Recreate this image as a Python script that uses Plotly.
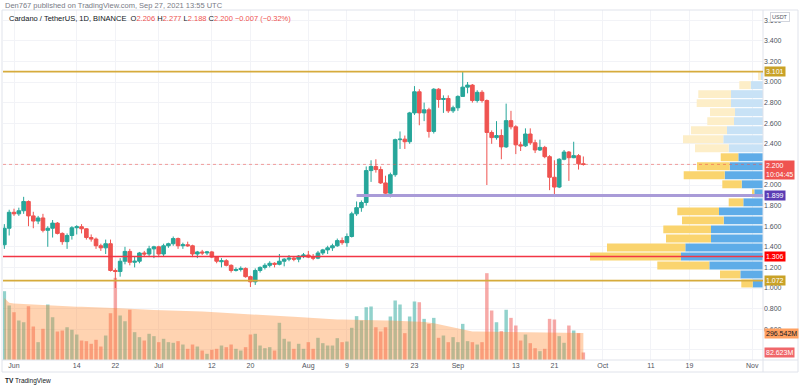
import pandas as pd
import plotly.graph_objects as go

W, H = 800, 388

# ---------------- data ----------------
dates = pd.date_range("2021-05-30", "2021-09-27", freq="D")

open_ = [1.42, 1.58,
         1.735, 1.72, 1.75, 1.84, 1.70, 1.65, 1.68, 1.56, 1.58, 1.63, 1.53, 1.45, 1.51, 1.585, 1.595,
         1.575, 1.49, 1.475, 1.41, 1.39, 1.43, 1.17, 1.16, 1.26, 1.355, 1.25, 1.26, 1.34, 1.33, 1.38,
         1.40, 1.33, 1.41, 1.43, 1.48, 1.41, 1.42, 1.41, 1.33, 1.35, 1.34, 1.35, 1.30, 1.255, 1.265,
         1.22, 1.17, 1.18, 1.19, 1.11, 1.06, 1.17, 1.20, 1.22, 1.24, 1.23, 1.26, 1.28, 1.29, 1.28, 1.31,
         1.32, 1.30, 1.29, 1.34, 1.37, 1.39, 1.41, 1.46, 1.44, 1.50, 1.72, 1.78, 1.83, 2.14, 2.18,
         2.15, 2.02, 1.92, 2.10, 2.44, 2.445, 2.42, 2.70, 2.905, 2.70, 2.73, 2.52, 2.93, 2.83, 2.84, 2.72,
         2.75, 2.86, 2.95, 2.97, 2.82, 2.90, 2.82, 2.51, 2.46, 2.48, 2.37, 2.625, 2.565, 2.39, 2.38,
         2.495, 2.41, 2.34, 2.365, 2.275, 2.075, 1.98, 2.25, 2.32, 2.265, 2.285, 2.206]
high = [1.62, 1.76,
        1.77, 1.78, 1.885, 1.85, 1.74, 1.70, 1.72, 1.60, 1.66, 1.64, 1.54, 1.53, 1.60, 1.61, 1.62,
        1.58, 1.52, 1.49, 1.43, 1.47, 1.47, 1.19, 1.29, 1.40, 1.38, 1.31, 1.35, 1.36, 1.41, 1.41,
        1.41, 1.43, 1.44, 1.50, 1.49, 1.44, 1.45, 1.42, 1.36, 1.37, 1.36, 1.36, 1.31, 1.29, 1.28,
        1.23, 1.20, 1.21, 1.20, 1.12, 1.19, 1.21, 1.24, 1.26, 1.25, 1.33, 1.29, 1.32, 1.31, 1.32, 1.34,
        1.36, 1.33, 1.36, 1.38, 1.41, 1.43, 1.48, 1.49, 1.53, 1.74, 1.84, 1.85, 2.18, 2.24, 2.25,
        2.18, 2.09, 2.12, 2.45, 2.52, 2.48, 2.71, 2.96, 2.93, 2.80, 2.75, 2.94, 2.94, 2.87, 2.87, 2.77,
        2.87, 3.10, 3.00, 2.98, 2.92, 2.92, 2.83, 2.53, 2.62, 2.54, 2.79, 2.72, 2.58, 2.42, 2.55,
        2.55, 2.44, 2.44, 2.38, 2.29, 2.24, 2.26, 2.34, 2.33, 2.42, 2.30, 2.277]
low = [1.38, 1.51,
       1.70, 1.70, 1.72, 1.60, 1.58, 1.62, 1.54, 1.40, 1.49, 1.52, 1.42, 1.38, 1.47, 1.52, 1.53,
       1.47, 1.45, 1.38, 1.36, 1.33, 1.16, 1.00, 1.11, 1.23, 1.22, 1.20, 1.24, 1.30, 1.30, 1.29,
       1.30, 1.31, 1.39, 1.41, 1.38, 1.38, 1.40, 1.30, 1.29, 1.32, 1.32, 1.29, 1.24, 1.20, 1.21,
       1.15, 1.16, 1.16, 1.10, 1.01, 1.03, 1.15, 1.18, 1.20, 1.20, 1.22, 1.21, 1.26, 1.26, 1.25, 1.29,
       1.29, 1.27, 1.28, 1.32, 1.33, 1.36, 1.40, 1.42, 1.40, 1.49, 1.70, 1.74, 1.80, 2.03, 2.12,
       2.01, 1.90, 1.88, 2.08, 2.35, 2.35, 2.40, 2.68, 2.58, 2.62, 2.46, 2.50, 2.75, 2.70, 2.70, 2.70,
       2.72, 2.86, 2.89, 2.80, 2.80, 2.80, 2.00, 2.40, 2.44, 2.25, 2.36, 2.54, 2.30, 2.33, 2.37,
       2.39, 2.31, 2.33, 2.26, 1.95, 1.90, 1.97, 2.24, 2.04, 2.26, 2.15, 2.188]
close = [1.58, 1.735,
         1.72, 1.75, 1.84, 1.70, 1.65, 1.68, 1.56, 1.58, 1.63, 1.53, 1.45, 1.51, 1.585, 1.595, 1.575,
         1.49, 1.475, 1.41, 1.39, 1.43, 1.17, 1.16, 1.26, 1.355, 1.25, 1.26, 1.34, 1.33, 1.38, 1.40,
         1.33, 1.41, 1.43, 1.48, 1.41, 1.42, 1.41, 1.33, 1.35, 1.34, 1.35, 1.30, 1.26, 1.265, 1.22,
         1.17, 1.18, 1.19, 1.11, 1.06, 1.17, 1.20, 1.22, 1.24, 1.23, 1.26, 1.28, 1.29, 1.28, 1.31, 1.32,
         1.30, 1.29, 1.34, 1.37, 1.39, 1.41, 1.46, 1.44, 1.50, 1.72, 1.78, 1.83, 2.14, 2.18, 2.15,
         2.02, 1.92, 2.10, 2.44, 2.445, 2.42, 2.70, 2.905, 2.70, 2.73, 2.52, 2.93, 2.83, 2.84, 2.72, 2.75,
         2.86, 2.95, 2.97, 2.82, 2.90, 2.82, 2.51, 2.46, 2.48, 2.37, 2.625, 2.565, 2.39, 2.38, 2.495,
         2.41, 2.34, 2.365, 2.275, 2.075, 1.98, 2.25, 2.32, 2.265, 2.285, 2.206, 2.200]
volume_m = [756, 599,
            525, 434, 415, 591, 368, 196, 343, 610, 470, 313, 324, 360, 332, 280, 214,
            207, 178, 222, 148, 269, 514, 903, 489, 426, 552, 306, 251, 214, 288, 262,
            196, 233, 196, 189, 207, 170, 123, 170, 148, 104, 68, 112, 123, 159, 141,
            170, 123, 104, 141, 280, 288, 159, 130, 141, 104, 409, 233, 203, 123, 178, 123,
            196, 123, 244, 185, 159, 159, 240, 196, 203, 354, 482, 434, 580, 588, 360,
            313, 360, 478, 654, 610, 295, 478, 643, 635, 452, 397, 463, 244, 269, 196, 251,
            196, 397, 207, 196, 170, 196, 954, 544, 415, 317, 552, 463, 379, 214, 280,
            185, 130, 97, 123, 452, 445, 262, 189, 379, 324, 295, 82.623]
volume_ma_m = [680, 630,
               620, 618, 618, 617, 615, 612, 607, 604, 600, 596, 592, 588, 587, 586, 585,
               584, 583, 582, 580, 578, 575, 573, 570, 566, 562, 558, 555, 552, 551, 550,
               549, 548, 547, 546, 545, 544, 541, 538, 535, 532, 529, 526, 524, 522, 520,
               518, 516, 514, 512, 509, 506, 503, 500, 497, 493, 488, 483, 478, 474, 470, 466,
               462, 458, 455, 452, 450, 448, 446, 444, 442, 441, 440, 439, 438, 437, 436,
               435, 434, 433, 432, 431, 429, 426, 423, 420, 417, 415, 405, 393, 381, 369, 357,
               345, 333, 322, 314, 312, 311, 310, 309, 308, 308, 307, 307, 306, 306, 305,
               304, 304, 303, 302, 302, 301, 301, 300, 300, 299, 299, 296.542]

# visible range volume profile (24 rows from low to high), millions
profile_low, profile_high = 1.000, 3.101
profile_up_m = [206, 454, 1074, 1640, 1554, 1040, 1040, 786, 880, 394, 174, 426,
                766, 666, 494, 686, 794, 720, 580, 560, 640, 640, 246, 40]
profile_down_m = [228, 406, 1040, 1820, 1566, 900, 954, 834, 834, 292, 46, 388,
                  820, 654, 352, 674, 806, 720, 534, 500, 686, 654, 228, 60]
value_area_rows = 15

level_prices = [3.101, 1.899, 1.306, 1.072]
level_starts = ["2021-05-29", "2021-08-11", "2021-05-29", "2021-05-29"]
level_line_colors = ["#d6ab3c", "#a99bd8", "#f23645", "#d6ab3c"]
level_label_colors = ["#c9a227", "#5b3cb4", "#ff0000", "#c9a227"]
level_widths = [1.6, 3, 1.6, 1.6]

last_price = 2.200
countdown = "10:04:45"

tick_dates = ["2021-06-01", "2021-06-14", "2021-06-22", "2021-07-01", "2021-07-12", "2021-07-20",
              "2021-08-01", "2021-08-09", "2021-08-23", "2021-09-01", "2021-09-13", "2021-09-21",
              "2021-10-01", "2021-10-11", "2021-10-19", "2021-11-01"]
tick_text = ["Jun", "14", "22", "Jul", "12", "20", "Aug", "9", "23", "Sep", "13", "21",
             "Oct", "11", "19", "Nov"]
price_ticks = [0.4, 0.6, 0.8, 1.0, 1.2, 1.4, 1.6, 1.8, 2.0, 2.2, 2.4, 2.6, 2.8, 3.0, 3.2, 3.4, 3.6]
# tick labels fully hidden behind price-axis badges in the original
hidden_tick_labels = [0.4, 2.2]

# ---------------- layout helpers ----------------
def px_x(x):
    return x / W

def px_y(y):
    return 1 - y / H

PLOT_L, PLOT_R, PLOT_T, PLOT_B = 3, 763, 10, 360
FONT = "Liberation Sans"
TXT = "#50535e"
UP, DOWN = "#26a69a", "#ef5350"

fig = go.Figure()

vol_colors = ["rgba(38,166,154,0.5)" if c >= o else "rgba(239,83,80,0.5)"
              for o, c in zip(open_, close)]
fig.add_trace(go.Bar(x=dates, y=volume_m, marker=dict(color=vol_colors, line=dict(width=0)),
                     width=0.72 * 86400000, xaxis="x", yaxis="y", hoverinfo="skip"))
fig.add_trace(go.Scatter(x=dates, y=volume_ma_m, mode="lines", fill="tozeroy",
                         fillcolor="rgba(255,140,50,0.38)", line=dict(width=0, color="rgba(255,140,50,0.5)"),
                         xaxis="x", yaxis="y", hoverinfo="skip"))

fig.add_trace(go.Candlestick(x=dates, open=open_, high=high, low=low, close=close,
                             increasing=dict(line=dict(color=UP, width=1), fillcolor=UP),
                             decreasing=dict(line=dict(color=DOWN, width=1), fillcolor=DOWN),
                             xaxis="x", yaxis="y2", hoverinfo="skip"))

row_h = (profile_high - profile_low) / len(profile_up_m)
row_centers = [profile_low + row_h * (i + 0.5) for i in range(len(profile_up_m))]
up_cols = ["#5eace8" if i < value_area_rows else "#c8e2f6" for i in range(len(profile_up_m))]
dn_cols = ["#fad46e" if i < value_area_rows else "#fdeec8" for i in range(len(profile_up_m))]
fig.add_trace(go.Bar(orientation="h", y=row_centers, x=profile_up_m, width=row_h * 0.88,
                     marker=dict(color=up_cols, line=dict(width=0)), xaxis="x2", yaxis="y2",
                     hoverinfo="skip"))
fig.add_trace(go.Bar(orientation="h", y=row_centers, x=profile_down_m, base=profile_up_m,
                     width=row_h * 0.88, marker=dict(color=dn_cols, line=dict(width=0)),
                     xaxis="x2", yaxis="y2", hoverinfo="skip"))

shapes = []
shapes.append(dict(type="rect", xref="paper", yref="paper", x0=px_x(2), x1=px_x(798),
                   y0=px_y(372), y1=px_y(PLOT_T), line=dict(color="#e0e3eb", width=1), layer="above"))
shapes.append(dict(type="line", xref="paper", yref="paper", x0=px_x(PLOT_R), x1=px_x(PLOT_R),
                   y0=px_y(372), y1=px_y(PLOT_T), line=dict(color="#e0e3eb", width=1), layer="above"))
shapes.append(dict(type="line", xref="paper", yref="paper", x0=px_x(2), x1=px_x(798),
                   y0=px_y(PLOT_B), y1=px_y(PLOT_B), line=dict(color="#e0e3eb", width=1), layer="above"))
shapes.append(dict(type="line", xref="paper", yref="y2", x0=px_x(PLOT_L), x1=px_x(PLOT_R),
                   y0=last_price, y1=last_price, line=dict(color="rgba(239,83,80,0.55)", width=1, dash="dot"),
                   layer="above"))
for p, s, c, w in zip(level_prices, level_starts, level_line_colors, level_widths):
    shapes.append(dict(type="line", xref="x", yref="y2", x0=s, x1="2021-11-03 05:35",
                       y0=p, y1=p, line=dict(color=c, width=w), layer="above"))

ann = []
ann.append(dict(xref="paper", yref="paper", x=px_x(3), y=px_y(6), xanchor="left", yanchor="middle",
                text="Den767 published on TradingView.com, Sep 27, 2021 13:55 UTC", showarrow=False,
                font=dict(family=FONT, size=7.5, color="#787b86")))
red = "#ef5350"
legend_txt = ("Cardano / TetherUS, 1D, BINANCE  O<span style='color:%s'>2.206</span> "
              "H<span style='color:%s'>2.277</span> L<span style='color:%s'>2.188</span> "
              "C<span style='color:%s'>2.200</span> <span style='color:%s'>\u22120.007 (\u22120.32%%)</span>"
              % (red, red, red, red, red))
ann.append(dict(xref="paper", yref="paper", x=px_x(7), y=px_y(18.5), xanchor="left", yanchor="middle",
                text=legend_txt, showarrow=False, font=dict(family=FONT, size=7.5, color="#131722")))
ann.append(dict(xref="paper", yref="paper", x=px_x(3), y=px_y(380.5), xanchor="left", yanchor="middle",
                text="<b>TV</b> TradingView", showarrow=False, font=dict(family=FONT, size=6.5, color="#131722")))
ann.append(dict(xref="paper", yref="paper", x=px_x(780), y=px_y(17), xanchor="center", yanchor="middle",
                text="USDT", showarrow=False, font=dict(family=FONT, size=5.5, color=TXT),
                bgcolor="white", bordercolor="#d1d4dc", borderwidth=1, borderpad=1))
for p, c in zip(level_prices, level_label_colors):
    ann.append(dict(xref="paper", yref="y2", x=px_x(764), y=p, xanchor="left", yanchor="middle",
                    text="%.3f" % p, showarrow=False, font=dict(family=FONT, size=7, color="white"),
                    bgcolor=c, borderpad=1))
ann.append(dict(xref="paper", yref="y2", x=px_x(764), y=last_price, xanchor="left", yanchor="top", yshift=4,
                text="%.3f<br>%s" % (last_price, countdown), showarrow=False, align="left",
                font=dict(family=FONT, size=7, color="white"), bgcolor=red, borderpad=1))
ann.append(dict(xref="paper", yref="y", x=px_x(764), y=volume_ma_m[-1], xanchor="left", yanchor="middle",
                text="%.3fM" % volume_ma_m[-1], showarrow=False,
                font=dict(family=FONT, size=7, color="#131722"), bgcolor="#ffa060", borderpad=1))
ann.append(dict(xref="paper", yref="y", x=px_x(764), y=volume_m[-1], xanchor="left", yanchor="middle",
                text="%.3fM" % volume_m[-1], showarrow=False,
                font=dict(family=FONT, size=7, color="white"), bgcolor="#f0676a", borderpad=1))

x_dom = [px_x(PLOT_L), px_x(PLOT_R)]
y_dom = [px_y(PLOT_B), px_y(PLOT_T)]
vol_px_per_m = 0.091
price_px_per_unit = 103.0
y_price_at_288 = 1.0

price_tick_text = ["" if t in hidden_tick_labels else "%.3f" % t for t in price_ticks]

fig.update_layout(
    width=W, height=H, margin=dict(l=0, r=0, t=0, b=0),
    paper_bgcolor="white", plot_bgcolor="white", showlegend=False,
    boxgap=0.25, boxgroupgap=0, barmode="overlay",
    xaxis=dict(type="date", domain=x_dom, range=["2021-05-29 17:17", "2021-11-03 05:35"],
               tickvals=tick_dates, ticktext=tick_text, tickfont=dict(family=FONT, size=7, color=TXT),
               showgrid=True, gridcolor="#f2f3f7", gridwidth=1, zeroline=False, showline=False,
               ticks="", anchor="y", rangeslider=dict(visible=False), fixedrange=True, automargin=False),
    yaxis=dict(domain=y_dom, range=[0, (PLOT_B - PLOT_T) / vol_px_per_m], visible=False,
               showgrid=False, fixedrange=True),
    yaxis2=dict(overlaying="y", side="right", anchor="x",
                range=[y_price_at_288 - (PLOT_B - 288) / price_px_per_unit,
                       y_price_at_288 + (288 - PLOT_T) / price_px_per_unit],
                tickvals=price_ticks, ticktext=price_tick_text,
                tickfont=dict(family=FONT, size=7, color=TXT), showgrid=True, gridcolor="#f2f3f7",
                zeroline=False, showline=False, ticks="", fixedrange=True, automargin=False),
    xaxis2=dict(overlaying="x", anchor="y2", range=[15200, 0], visible=False,
                showgrid=False, fixedrange=True),
    shapes=shapes, annotations=ann,
)

fig.write_html("out.html", config={"displayModeBar": False},
               post_script="document.body.style.margin='0';document.body.style.overflow='hidden';")
